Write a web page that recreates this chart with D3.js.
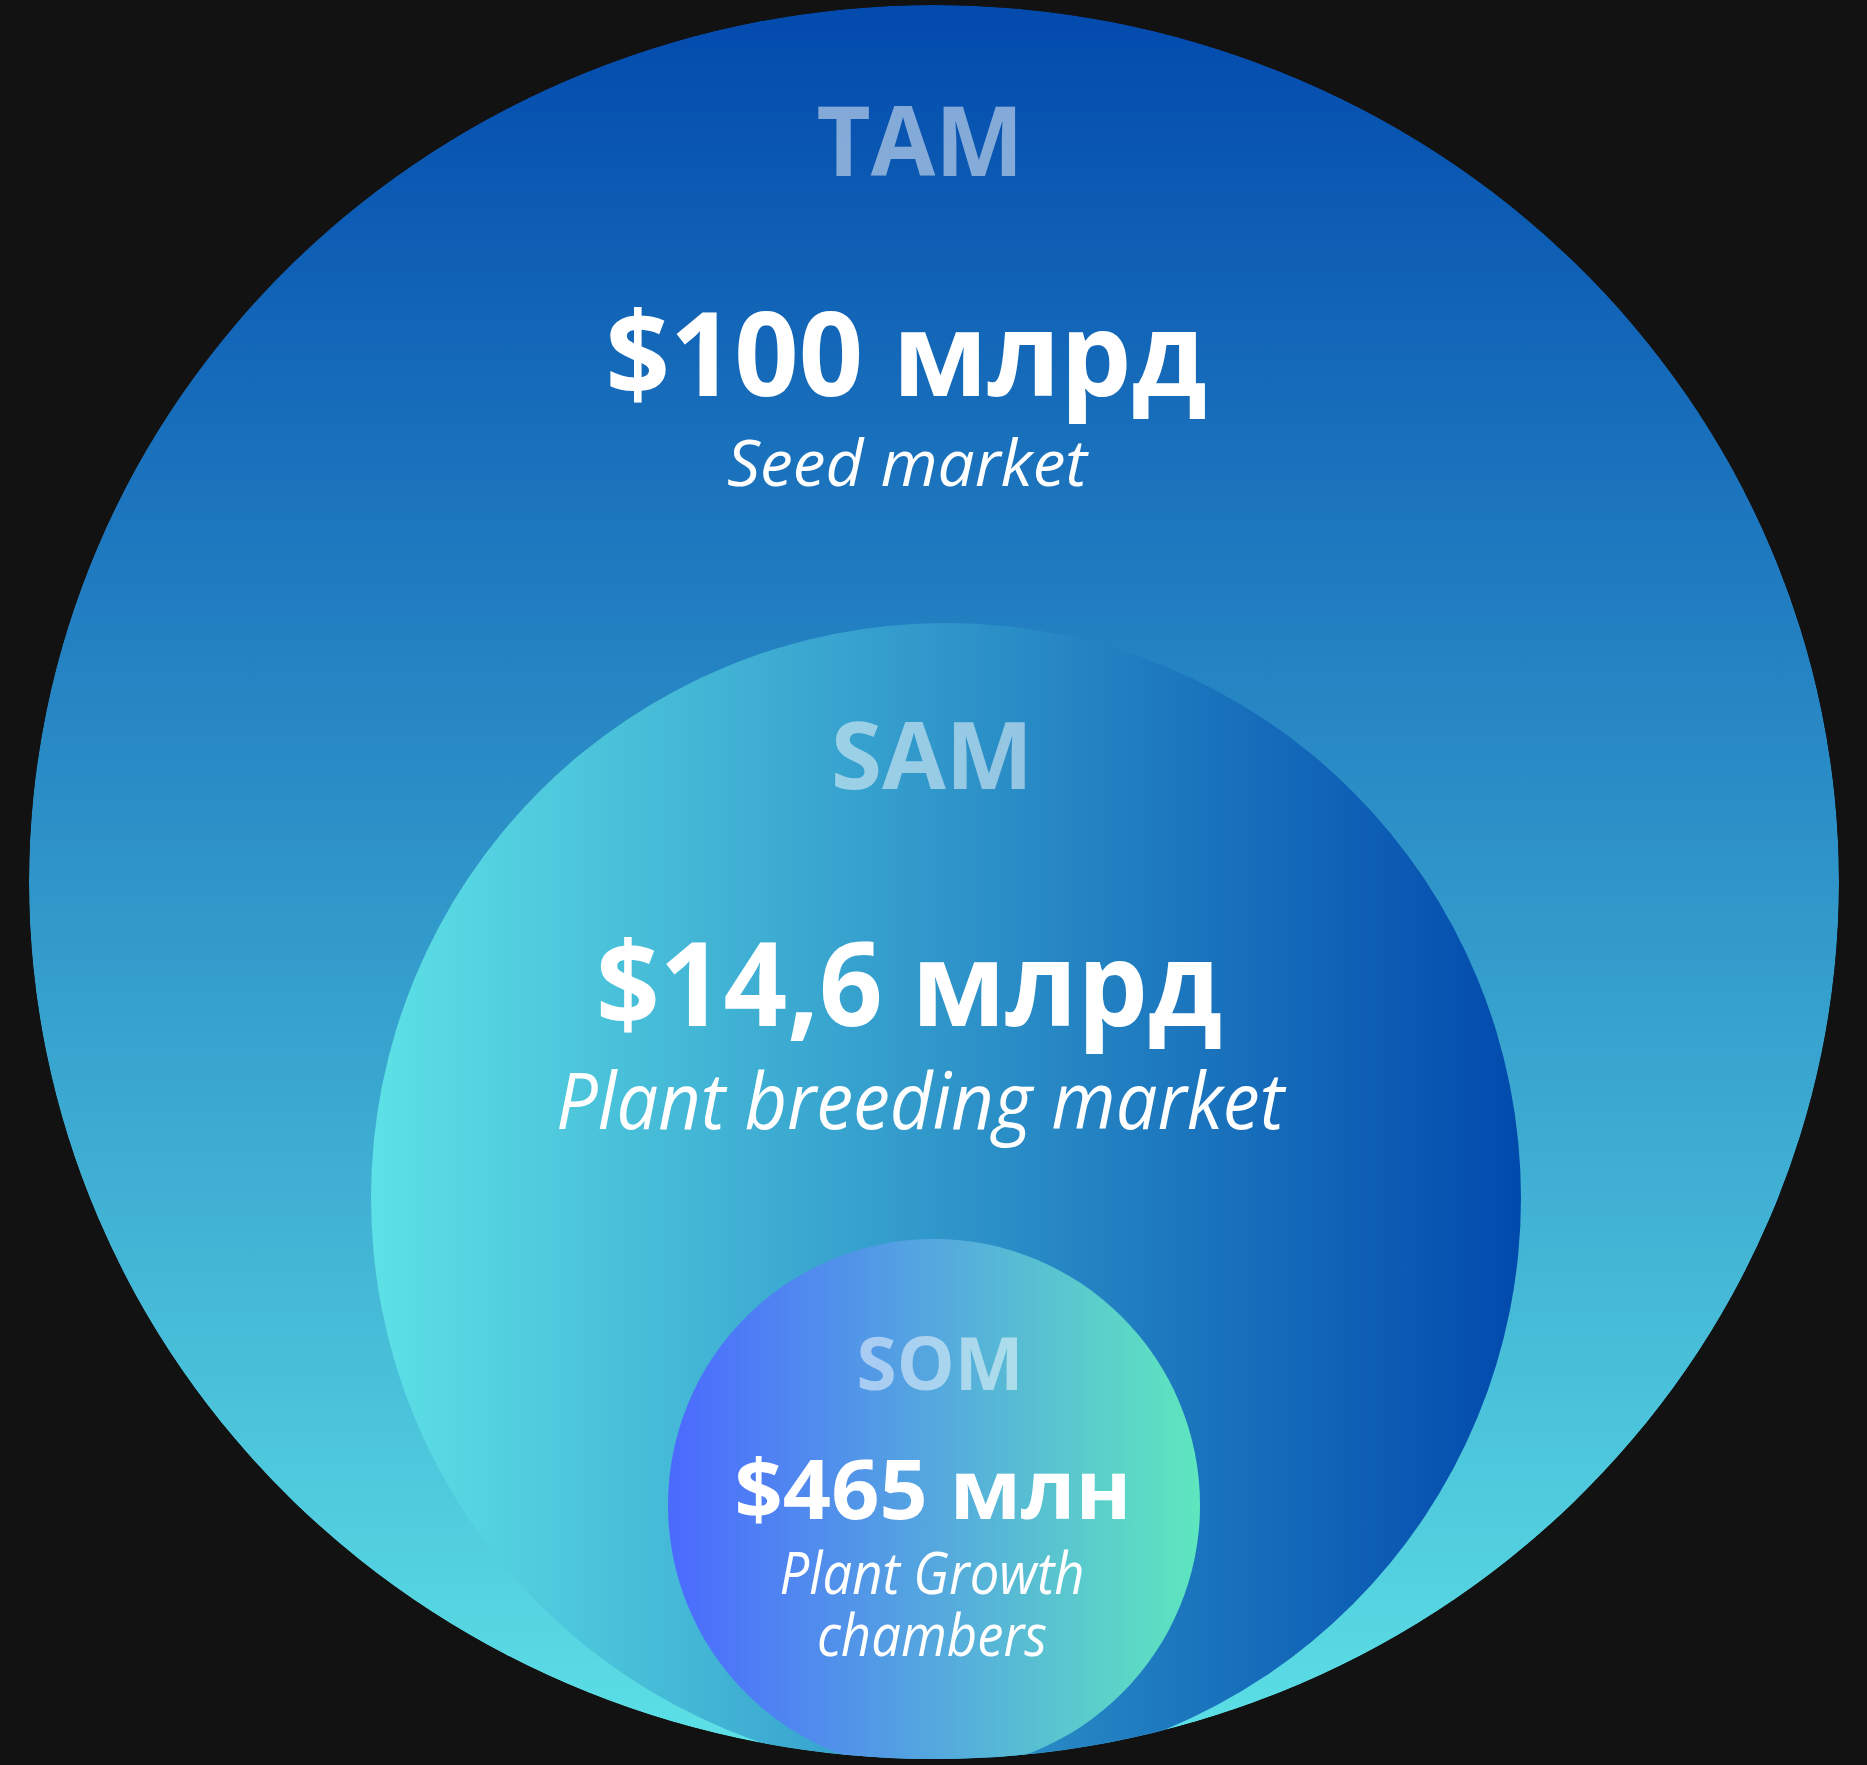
<!DOCTYPE html>
<meta charset="utf-8">
<script src="https://d3js.org/d3.v7.min.js"></script>
<body>
<svg id="chart" width="1867" height="1765"></svg>
<style type="text/css">
body{
    margin: 0;
    background: #121212;
    font-family: 'Open Sans', sans-serif;
}
svg{ display: block; }
</style>
<script>
    // market levels, outermost first
    const LEVELS = ['TAM', 'SAM', 'SOM'];
    const VALUES = ['$100 млрд', '$14,6 млрд', '$465 млн'];
    const DESCRIPTIONS = [['Seed market'], ['Plant breeding market'], ['Plant Growth', 'chambers']];

    // geometry and look of each circle
    // label/value: [x, y, size, width], desc: [x, y, size, lineStep, [widths]]
    const LAYOUT = {
        TAM: {cx: 934, cy: 882, rx: 905, ry: 877, dir: 'v', from: '#024aad', to: '#5de1e6',
              label: [920, 176, 96, 207], value: [906, 396, 116, 601], desc: [907, 486, 64, 0, [360]]},
        SAM: {cx: 946, cy: 1198, rx: 575, ry: 575, dir: 'h', from: '#5de1e6', to: '#014aad',
              label: [932, 789, 94, 202], value: [909, 1026, 117, 626], desc: [920, 1129, 78, 0, [728]]},
        SOM: {cx: 934, cy: 1505, rx: 266, ry: 266, dir: 'h', from: '#4b69ff', to: '#5ee7be',
              label: [940, 1390, 74, 167], value: [933, 1519, 83, 397], desc: [932, 1594, 59, 62, [305, 230]]}
    };

    const W = 1867, H = 1765;
    const svg = d3.select('#chart');
    const defs = svg.append('defs');

    svg.append('rect').attr('width', W).attr('height', H).attr('fill', '#121212');

    const data = LEVELS.map((k, i) => ({key: k, value: VALUES[i], desc: DESCRIPTIONS[i], lay: LAYOUT[k]}));

    data.forEach(d => {
        const g = defs.append('linearGradient')
            .attr('id', 'grad-' + d.key)
            .attr('x1', 0).attr('y1', 0)
            .attr('x2', d.lay.dir === 'h' ? 1 : 0)
            .attr('y2', d.lay.dir === 'v' ? 1 : 0);
        g.append('stop').attr('offset', 0).attr('stop-color', d.lay.from);
        g.append('stop').attr('offset', 1).attr('stop-color', d.lay.to);
    });

    // inner circles get cut by the outer one
    const outer = data[0].lay;
    defs.append('clipPath').attr('id', 'clip-outer')
        .append('ellipse')
        .attr('cx', outer.cx).attr('cy', outer.cy)
        .attr('rx', outer.rx).attr('ry', outer.ry);

    const circles = svg.append('g').attr('clip-path', 'url(#clip-outer)');
    circles.selectAll('ellipse')
        .data(data)
        .join('ellipse')
        .attr('cx', d => d.lay.cx)
        .attr('cy', d => d.lay.cy)
        .attr('rx', d => d.lay.rx)
        .attr('ry', d => d.lay.ry)
        .attr('fill', d => `url(#grad-${d.key})`);

    const texts = svg.append('g').attr('text-anchor', 'middle');

    texts.selectAll('text.label')
        .data(data)
        .join('text')
        .attr('class', 'label')
        .attr('x', d => d.lay.label[0])
        .attr('y', d => d.lay.label[1])
        .attr('font-size', d => d.lay.label[2])
        .attr('textLength', d => d.lay.label[3])
        .attr('lengthAdjust', 'spacingAndGlyphs')
        .attr('font-weight', 700)
        .attr('fill', '#fff')
        .attr('fill-opacity', 0.5)
        .text(d => d.key);

    texts.selectAll('text.value')
        .data(data)
        .join('text')
        .attr('class', 'value')
        .attr('x', d => d.lay.value[0])
        .attr('y', d => d.lay.value[1])
        .attr('font-size', d => d.lay.value[2])
        .attr('textLength', d => d.lay.value[3])
        .attr('lengthAdjust', 'spacingAndGlyphs')
        .attr('font-weight', 700)
        .attr('fill', '#fff')
        .text(d => d.value);

    // descriptions, one text per line
    const lines = data.flatMap(d => d.desc.map((t, i) => ({t, i, lay: d.lay})));
    texts.selectAll('text.desc')
        .data(lines)
        .join('text')
        .attr('class', 'desc')
        .attr('x', d => d.lay.desc[0])
        .attr('y', d => d.lay.desc[1] + d.i * d.lay.desc[3])
        .attr('font-size', d => d.lay.desc[2])
        .attr('textLength', d => d.lay.desc[4][d.i])
        .attr('lengthAdjust', 'spacingAndGlyphs')
        .attr('font-style', 'italic')
        .attr('font-weight', 400)
        .attr('fill', '#fff')
        .text(d => d.t);
</script>
</body>
